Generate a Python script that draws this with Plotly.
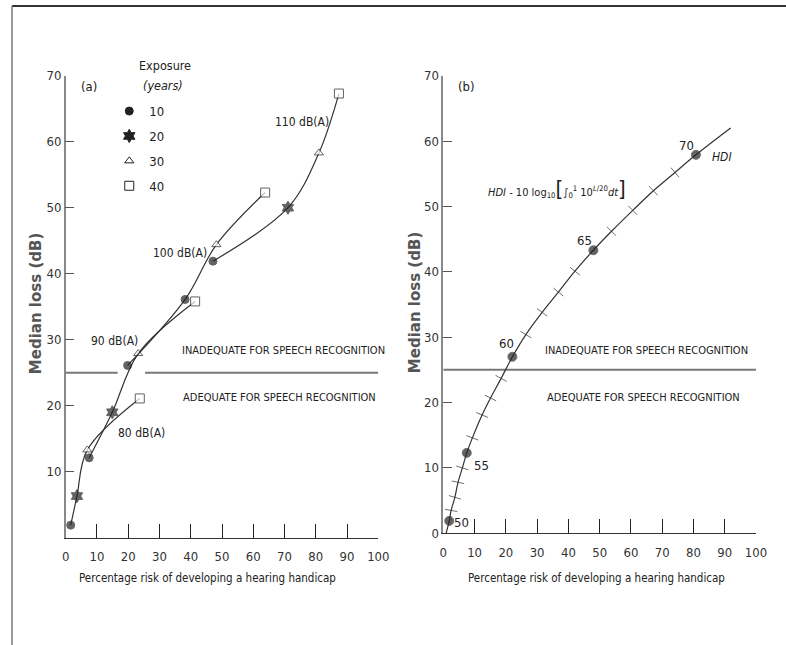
import plotly.graph_objects as go

# ---------------- data: panel (a) ----------------
exposure_years = ["10", "20", "30", "40"]
levels = ["80 dB(A)", "90 dB(A)", "100 dB(A)", "110 dB(A)"]
risk_80 = [1.6, 3.6, 6.9, 23.7]
loss_80 = [1.9, 6.3, 13.3, 21.1]
risk_90 = [7.5, 14.9, 23.2, 41.4]
loss_90 = [12.1, 19.0, 27.9, 35.8]
risk_100 = [19.8, 38.2, 48.2, 63.8]
loss_100 = [26.1, 36.1, 44.4, 52.3]
risk_110 = [47.1, 71.1, 81.0, 87.4]
loss_110 = [41.9, 50.0, 58.3, 67.3]
# marker kind per point (exposure), as drawn in the picture
kind_80 = ["10", "20", "30", "40"]
kind_90 = ["10", "20", "30", "40"]
kind_100 = ["10", "10", "30", "40"]
kind_110 = ["10", "20", "30", "40"]

# speech-recognition threshold
threshold_db = 25
thr_a_x = [0, 16.6, None, 25.4, 100]
thr_b_x = [0, 100]

# ---------------- data: panel (b) HDI curve ----------------
hdi_risk = [0.9, 1.9, 2.5, 3.7, 4.7, 6.1, 7.5, 9.3, 12.4, 15.1, 18.5, 22.1,
            26.4, 31.6, 36.8, 42.1, 48.0, 53.8, 60.6, 67.2, 74.1, 80.8, 91.9]
hdi_loss = [0.0, 1.9, 3.5, 5.5, 7.8, 10.0, 12.3, 14.6, 18.1, 20.7, 23.7, 27.0,
            30.4, 33.8, 36.9, 40.1, 43.3, 46.2, 49.4, 52.4, 55.2, 57.9, 62.0]
# 'dot' = labelled HDI value, 'tick' = intermediate unit, 'end' = curve end
hdi_kind = ["end", "dot", "tick", "tick", "tick", "tick", "dot", "tick", "tick",
            "tick", "tick", "dot", "tick", "tick", "tick", "tick", "dot", "tick",
            "tick", "tick", "tick", "dot", "end"]
hdi_labels = ["50", "55", "60", "65", "70"]

x_ticks = [0, 10, 20, 30, 40, 50, 60, 70, 80, 90, 100]
y_ticks_a = [10, 20, 30, 40, 50, 60, 70]
y_ticks_b = [0, 10, 20, 30, 40, 50, 60, 70]

# ---------------- styling ----------------
NARROW = "DejaVu Sans Condensed, Liberation Sans Narrow, Liberation Sans, sans-serif"
INK = "#222222"
sym = {"10": "circle", "20": "hexagram", "30": "triangle-up", "40": "square"}
fill = {"10": INK, "20": INK, "30": "white", "40": "white"}
size = {"10": 8, "20": 10, "30": 8, "40": 9}

fig = go.Figure()

for rx, ly, kinds in [(risk_80, loss_80, kind_80), (risk_90, loss_90, kind_90),
                      (risk_100, loss_100, kind_100), (risk_110, loss_110, kind_110)]:
    fig.add_trace(go.Scatter(
        x=rx, y=ly, mode="lines+markers", xaxis="x", yaxis="y",
        line=dict(color="#333333", width=1.2, shape="spline", smoothing=1.0),
        marker=dict(symbol=[sym[k] for k in kinds], color=[fill[k] for k in kinds],
                    size=[size[k] for k in kinds], line=dict(color=INK, width=1)),
        showlegend=False, cliponaxis=False, hoverinfo="skip"))

# legend entries
for e in exposure_years:
    fig.add_trace(go.Scatter(
        x=[None], y=[None], mode="markers", name=e, xaxis="x", yaxis="y",
        legendgroup="g" + e,
        marker=dict(symbol=sym[e], color=fill[e], size=size[e], line=dict(color=INK, width=1))))

# threshold lines
fig.add_trace(go.Scatter(x=thr_a_x, y=[threshold_db if v is not None else None for v in thr_a_x],
                         mode="lines", xaxis="x", yaxis="y", showlegend=False,
                         line=dict(color="#777777", width=2), hoverinfo="skip"))
fig.add_trace(go.Scatter(x=thr_b_x, y=[threshold_db] * len(thr_b_x),
                         mode="lines", xaxis="x2", yaxis="y2", showlegend=False,
                         line=dict(color="#777777", width=2), hoverinfo="skip"))

# HDI curve
hsym = {"end": "circle", "dot": "circle", "tick": "line-ew"}
hsize = {"end": 0, "dot": 9, "tick": 9}
fig.add_trace(go.Scatter(
    x=hdi_risk, y=hdi_loss, mode="lines+markers", xaxis="x2", yaxis="y2",
    line=dict(color="#333333", width=1.2, shape="spline", smoothing=1.0),
    marker=dict(symbol=[hsym[k] for k in hdi_kind], size=[hsize[k] for k in hdi_kind],
                color=INK, angleref="previous", line=dict(color="#333333", width=1)),
    showlegend=False, cliponaxis=False, hoverinfo="skip"))

axis_common = dict(range=[0, 100], tickvals=x_ticks, ticks="inside", ticklen=14,
                   tickwidth=1.3, tickcolor="#222", showline=True, linecolor="#333",
                   linewidth=1.3, showgrid=False, zeroline=False, automargin=False,
                   tickfont=dict(family=NARROW, size=13, color="#333"),
                   ticklabelstandoff=7, fixedrange=True)
yaxis_common = dict(range=[0, 70], ticks="inside", ticklen=9, tickwidth=1.3,
                    tickcolor="#555", showline=True, linecolor="#888", linewidth=1.5,
                    showgrid=False, zeroline=False, automargin=False,
                    tickfont=dict(family=NARROW, size=13, color="#333"), fixedrange=True)

fig.update_layout(
    width=786, height=645, autosize=False, margin=dict(l=0, r=0, t=0, b=0, pad=0),
    paper_bgcolor="white", plot_bgcolor="rgba(0,0,0,0)",
    xaxis=dict(domain=[0.0836, 0.4813], anchor="y", **axis_common),
    yaxis=dict(domain=[0.1664, 0.8826], anchor="x", tickvals=y_ticks_a, **yaxis_common),
    xaxis2=dict(domain=[0.5640, 0.9618], anchor="y2", **axis_common),
    yaxis2=dict(domain=[0.1732, 0.8826], anchor="x2", tickvals=y_ticks_b, **yaxis_common),
    showlegend=True,
    legend=dict(x=0.139, y=0.851, xanchor="left", yanchor="top", bgcolor="rgba(0,0,0,0)",
                font=dict(family=NARROW, size=13, color="#222"), tracegroupgap=5),
)

fig.add_shape(type="line", xref="paper", yref="paper", x0=0.0153, x1=1.0, y0=0.9907, y1=0.9907,
              line=dict(color="#333", width=2))
fig.add_shape(type="line", xref="paper", yref="paper", x0=0.0153, x1=0.0153, y0=0.0, y1=0.9907,
              line=dict(color="#777", width=1.5))

def ann(text, x, y, xref, yref, size=12, angle=0, family=NARROW, color="#222", xanchor="center"):
    fig.add_annotation(text=text, x=x, y=y, xref=xref, yref=yref, showarrow=False,
                       textangle=angle, xanchor=xanchor, yanchor="middle",
                       font=dict(family=family, size=size, color=color))

# legend heading
ann("Exposure", 0.2099, 0.8992, "paper", "paper", size=12.5)
ann("<i>(years)</i>", 0.2074, 0.8682, "paper", "paper", size=12.5)

# panel (a) labels
ann("(a)", 7.5, 68.4, "x", "y", size=13)
ann("110 dB(A)", 75.6, 63.0, "x", "y")
ann("100 dB(A)", 36.6, 43.2, "x", "y")
ann("90 dB(A)", 15.5, 29.8, "x", "y")
ann("80 dB(A)", 24.1, 15.8, "x", "y")
ann("INADEQUATE FOR SPEECH RECOGNITION", 69.8, 28.3, "x", "y", size=11)
ann("ADEQUATE FOR SPEECH RECOGNITION", 68.5, 21.3, "x", "y", size=11)

# panel (b) labels
ann("(b)", 7.5, 68.4, "x2", "y2", size=13)
for lab, xx, yy in zip(hdi_labels, [5.7, 12.3, 20.1, 45.3, 77.8], [1.6, 10.4, 29.1, 44.8, 59.4]):
    ann(lab, xx, yy, "x2", "y2", size=13)
ann("<i>HDI</i>", 89.0, 57.5, "x2", "y2", size=12)
ann("<i>HDI</i> - 10 log<sub>10</sub><span style='font-size:22px'>[</span>"
    "∫<sub>0</sub><sup>1</sup> 10<sup><i>L</i>/20</sup><i>dt</i>"
    "<span style='font-size:22px'>]</span>", 36.5, 52.8, "x2", "y2", size=11)
ann("INADEQUATE FOR SPEECH RECOGNITION", 65.1, 27.9, "x2", "y2", size=11)
ann("ADEQUATE FOR SPEECH RECOGNITION", 64.0, 20.8, "x2", "y2", size=11)

# axis titles
TITLE_FONT = "DejaVu Sans, Liberation Sans, sans-serif"
ann("<b>Median loss (dB)</b>", 0.0458, 0.530, "paper", "paper", size=15, angle=-90,
    family=TITLE_FONT, color="#555")
ann("<b>Median loss (dB)</b>", 0.528, 0.530, "paper", "paper", size=15, angle=-90,
    family=TITLE_FONT, color="#555")
ann("Percentage risk of developing a hearing handicap", 0.2634, 0.1039, "paper", "paper", size=11.5)
ann("Percentage risk of developing a hearing handicap", 0.7595, 0.1039, "paper", "paper", size=11.5)

fig.write_html("out.html", config={"displayModeBar": False},
               post_script="document.body.style.margin='0';document.body.style.overflow='hidden';")
